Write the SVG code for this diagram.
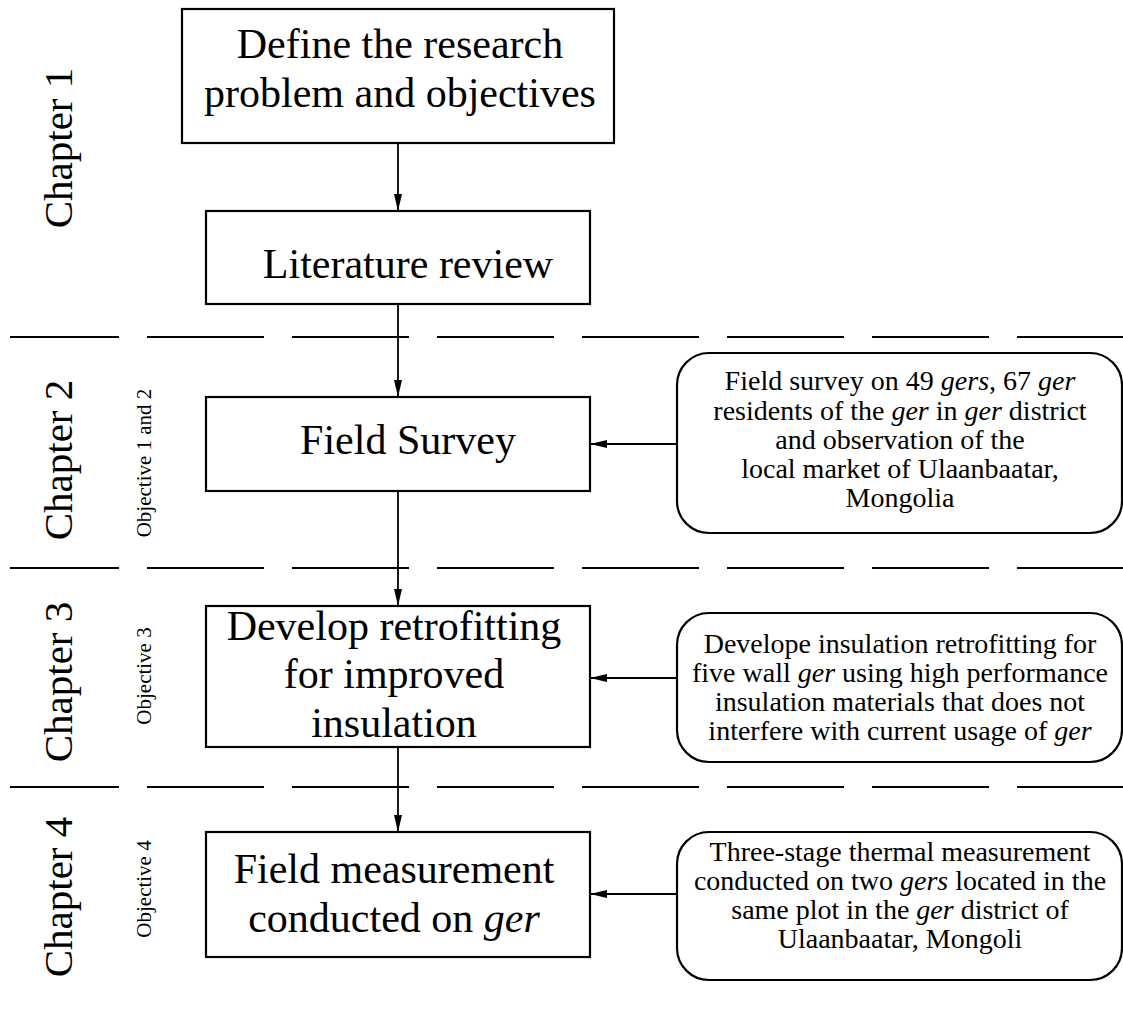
<svg xmlns="http://www.w3.org/2000/svg" width="1123" height="1014" viewBox="0 0 1123 1014" font-family="'Liberation Serif', 'Times New Roman', 'DejaVu Serif', serif">
<style>
.t{font-family:'Liberation Serif','Times New Roman','DejaVu Serif',serif;fill:#000}
.big{font-size:42px;text-anchor:middle}
.chap{font-size:41px;text-anchor:middle}
.obj{font-size:21px;text-anchor:middle}
.small{font-size:28px;text-anchor:middle}
.box{fill:#fff;stroke:#000;stroke-width:2.2}
.call{fill:#fff;stroke:#000;stroke-width:2.2}
.dash{stroke:#000;stroke-width:2.2;stroke-dasharray:117 28;stroke-dashoffset:8;fill:none}
.con{stroke:#000;stroke-width:1.8;fill:none}
.it{font-style:italic}
</style>
<defs>
<marker id="ah" markerUnits="userSpaceOnUse" markerWidth="18" markerHeight="10" refX="17" refY="5" orient="auto">
<path d="M0,1 L17,5 L0,9 Z" fill="#000"/>
</marker>
</defs>
<rect width="1123" height="1014" fill="#fff"/>
<g id="separators">
<line class="dash" x1="10" y1="337" x2="1123" y2="337"/>
<line class="dash" x1="10" y1="568" x2="1123" y2="568"/>
<line class="dash" x1="10" y1="787" x2="1123" y2="787"/>
</g>
<g id="labels">
<text class="t chap" transform="translate(72,148) rotate(-90)">Chapter 1</text>
<text class="t chap" transform="translate(72,460) rotate(-90)">Chapter 2</text>
<text class="t chap" transform="translate(72,682) rotate(-90)">Chapter 3</text>
<text class="t chap" transform="translate(72,897) rotate(-90)">Chapter 4</text>
<text class="t obj" transform="translate(151,463) rotate(-90)">Objective 1 and 2</text>
<text class="t obj" transform="translate(151,676) rotate(-90)">Objective 3</text>
<text class="t obj" transform="translate(151,889) rotate(-90)">Objective 4</text>
</g>
<g id="connectors">
<line class="con" x1="398" y1="143" x2="398" y2="211" marker-end="url(#ah)"/>
<line class="con" x1="398" y1="304" x2="398" y2="397" marker-end="url(#ah)"/>
<line class="con" x1="398" y1="491" x2="398" y2="606" marker-end="url(#ah)"/>
<line class="con" x1="398" y1="747" x2="398" y2="832" marker-end="url(#ah)"/>
<line class="con" x1="677" y1="444" x2="590" y2="444" marker-end="url(#ah)"/>
<line class="con" x1="677" y1="678" x2="590" y2="678" marker-end="url(#ah)"/>
<line class="con" x1="677" y1="894" x2="590" y2="894" marker-end="url(#ah)"/>
</g>
<g id="n1">
<rect class="box" x="182" y="9" width="432" height="134"/>
<text class="t big" x="400" y="58">Define the research</text>
<text class="t big" x="400" y="107">problem and objectives</text>
</g>
<g id="n2">
<rect class="box" x="206" y="211" width="384" height="93"/>
<text class="t big" x="408" y="278">Literature review</text>
</g>
<g id="n3">
<rect class="box" x="206" y="397" width="384" height="94"/>
<text class="t big" x="408" y="454">Field Survey</text>
</g>
<g id="n4">
<rect class="box" x="206" y="606" width="384" height="141"/>
<text class="t big" x="394" y="640">Develop retrofitting</text>
<text class="t big" x="394" y="688">for improved</text>
<text class="t big" x="394" y="737">insulation</text>
</g>
<g id="n5">
<rect class="box" x="206" y="832" width="384" height="125"/>
<text class="t big" x="394" y="883">Field measurement</text>
<text class="t big" x="394" y="932">conducted on <tspan class="it">ger</tspan></text>
</g>
<g id="c1">
<rect class="call" x="677" y="353" width="445" height="180" rx="32" ry="32"/>
<text class="t small" x="900" y="390">Field survey on 49 <tspan class="it">gers</tspan>, 67 <tspan class="it">ger</tspan></text>
<text class="t small" x="900" y="420">residents of the <tspan class="it">ger</tspan> in <tspan class="it">ger</tspan> district</text>
<text class="t small" x="900" y="449">and observation of the</text>
<text class="t small" x="900" y="478">local market of Ulaanbaatar,</text>
<text class="t small" x="900" y="507">Mongolia</text>
</g>
<g id="c2">
<rect class="call" x="677" y="613" width="445" height="149" rx="32" ry="32"/>
<text class="t small" x="900" y="653">Develope insulation retrofitting for</text>
<text class="t small" x="900" y="682">five wall <tspan class="it">ger</tspan> using high performance</text>
<text class="t small" x="900" y="711">insulation materials that does not</text>
<text class="t small" x="900" y="740">interfere with current usage of <tspan class="it">ger</tspan></text>
</g>
<g id="c3">
<rect class="call" x="677" y="832" width="445" height="148" rx="32" ry="32"/>
<text class="t small" x="900" y="861">Three-stage thermal measurement</text>
<text class="t small" x="900" y="890">conducted on two <tspan class="it">gers</tspan> located in the</text>
<text class="t small" x="900" y="919">same plot in the <tspan class="it">ger</tspan> district of</text>
<text class="t small" x="900" y="948">Ulaanbaatar, Mongoli</text>
</g>
</svg>
